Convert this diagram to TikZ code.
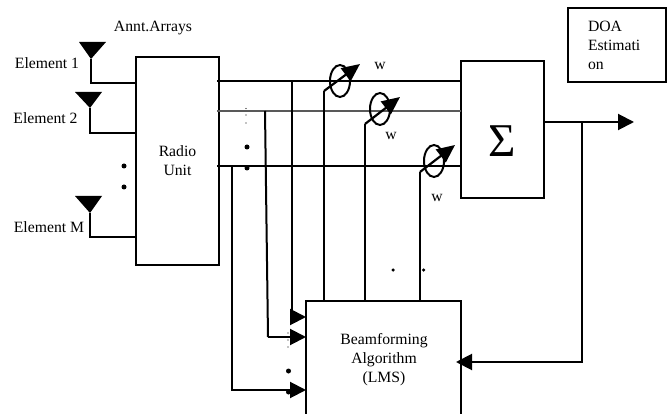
\documentclass[tikz,border=0pt]{standalone}
\usepackage{fontspec}
\setmainfont{Liberation Serif}
\usetikzlibrary{arrows.meta,shapes.geometric}
\tikzset{
  x=1pt,y=-1pt,
  every node/.style={font=\fontsize{15.7}{19}\selectfont,inner sep=0pt,outer sep=0pt},
  blockbox/.style={draw,line width=2pt,rectangle},
  wire/.style={line width=2pt},
  thinwire/.style={line width=2pt,draw=black!65},
  fedarrow/.style={line width=2pt,-{Triangle[length=16pt,width=16pt]}},
  weightarrow/.style={line width=2.2pt,-{Triangle[length=18pt,width=16pt]}},
  weightring/.style={draw,ellipse,line width=2pt,minimum width=20pt,minimum height=32pt},
  antenna/.style={fill=black},
  bigdot/.style={circle,fill=black,minimum size=5pt},
  smalldot/.style={circle,fill=black,minimum size=1.2pt},
}
\begin{document}
\begin{tikzpicture}
\useasboundingbox (0,0) rectangle (672,414);
% blocks
\node[blockbox,minimum width=83pt,minimum height=208pt,align=center] (radio) at (177.5,161) {Radio\\Unit};
\node[blockbox,minimum width=83pt,minimum height=137pt] (sum) at (502.5,129.5) {};
\node[font=\fontsize{47}{47}\selectfont] (sigma) at (502,141) {Σ};
\node[blockbox,minimum width=98pt,minimum height=74pt] (doa) at (617,45) {};
\node[align=left,anchor=north west] (doatext) at (588,21) {DOA\\Estimati\\on};
\node[minimum width=155pt,minimum height=113pt] (bf) at (383.5,357.5) {};
\draw[line width=2pt] (bf.south west) -- (bf.north west) -- (bf.north east) -- (bf.south east);
\node[align=center] (bftext) at (384,360) {Beamforming\\Algorithm\\(LMS)};
% antennas
\coordinate (a1) at (91,59);
\coordinate (a2) at (90,108);
\coordinate (a3) at (90,213);
\fill[antenna] (79,42) -- (106,42) -- (a1) -- cycle;
\fill[antenna] (75,92) -- (102,92) -- (a2) -- cycle;
\fill[antenna] (75,196) -- (102,196) -- (a3) -- cycle;
\draw[wire] (a1) |- (radio.west |- 0,83);
\draw[wire] (a2) |- (radio.west |- 0,133);
\draw[wire] (a3) |- (radio.west |- 0,237);
% bus lines
\coordinate (l1) at (217,81);
\coordinate (l2) at (217,111);
\coordinate (l3) at (217,166);
\draw[wire] (l1) -- (l1 -| sum.west);
\draw[thinwire] (l2) -- (l2 -| sum.west);
\draw[wire] (l3) -- (l3 -| sum.west);
% feeds to the algorithm
\coordinate (f1) at (292,81);
\coordinate (f2) at (265,111);
\coordinate (f2b) at (268,337);
\coordinate (f3) at (232,166);
\draw[fedarrow] (f1) |- (bf.west |- 0,317);
\draw[wire] (f2) -- (f2b);
\draw[fedarrow] (f2b) -- (bf.west |- f2b);
\draw[fedarrow] (f3) |- (bf.west |- 0,390);
% weights
\node[weightring] (w1) at (340,81) {};
\node[weightring] (w2) at (380,109) {};
\node[weightring] (w3) at (434,161) {};
\coordinate (w1s) at (324,91);
\coordinate (w2s) at (365,124);
\coordinate (w3s) at (420,172);
\coordinate (w1t) at (360,64);
\coordinate (w2t) at (400,97);
\coordinate (w3t) at (455,145);
\draw[wire] (w1s |- bf.north) -- (w1s);
\draw[wire] (w2s |- bf.north) -- (w2s);
\draw[wire] (w3s |- bf.north) -- (w3s);
\draw[weightarrow] (w1s) -- (w1t);
\draw[weightarrow] (w2s) -- (w2t);
\draw[weightarrow] (w3s) -- (w3t);
\node (wa) at (380,66) {w};
\node (wb) at (391,136) {w};
\node (wc) at (437,198) {w};
% output and feedback
\coordinate (out) at (634,122);
\coordinate (tap) at (582,122);
\coordinate (fbt) at (456,362);
\draw[fedarrow] (sum.east |- out) -- (out);
\draw[fedarrow] (tap) |- (fbt);
% labels
\node (e1) at (47,63) {Element 1};
\node (e2) at (45.5,118.5) {Element 2};
\node (e3) at (49,227) {Element M};
\node (ann) at (153,28) {Annt.Arrays};
% dots
\node[bigdot] (d1) at (124,166) {};
\node[bigdot] (d2) at (124,187) {};
\node[bigdot] (d3) at (247,147) {};
\node[bigdot] (d4) at (247,168) {};
\node[bigdot] (d5) at (288.5,371) {};
\node[bigdot] (d6) at (288.5,392) {};
\node[circle,fill=black,minimum size=3.5pt] (d7) at (393,270) {};
\node[circle,fill=black,minimum size=3.5pt] (d8) at (423.5,270) {};
\node[smalldot] at (246,108.5) {};
\node[smalldot] at (246,115) {};
\node[smalldot] at (246,123) {};
\node[smalldot] at (288,333) {};
\node[smalldot] at (288,340) {};
\node[smalldot] at (288,347) {};
\end{tikzpicture}
\end{document}
